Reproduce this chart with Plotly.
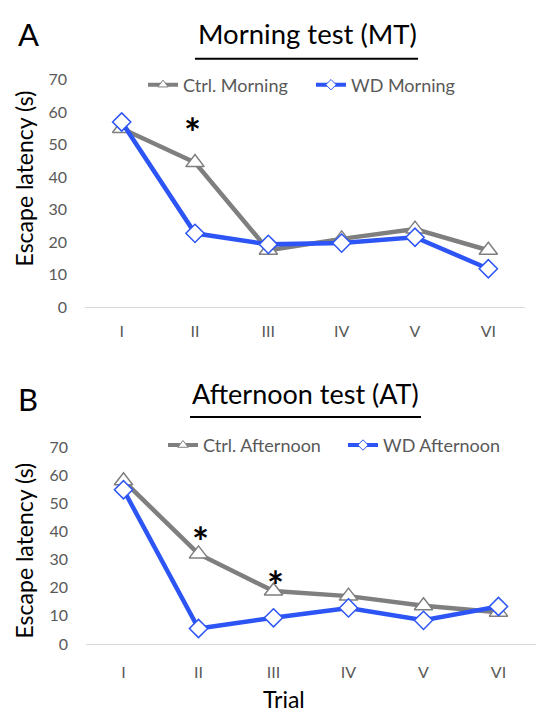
import plotly.graph_objects as go

W, H = 558, 726

trials = ["I", "II", "III", "IV", "V", "VI"]
ctrl_morning = [55, 44.5, 17.5, 21, 24, 17.5]
wd_morning = [57, 22.7, 19.3, 19.7, 21.5, 11.8]
ctrl_afternoon = [58, 32, 18.8, 17, 13.6, 11.3]
wd_afternoon = [54.8, 5.5, 9.3, 12.8, 8.4, 13.3]
y_ticks = [0, 10, 20, 30, 40, 50, 60, 70]

# significance marks (trial, value at which the asterisk sits)
sig_morning = [("II", 54)]
sig_afternoon = [("II", 40), ("III", 24.6)]

GRAY = "#7F7F7F"
BLUE = "#2D55F5"
TXT = "#595959"
FONT = "Lato"


def px(x):
    return x / W


def py(y):
    return 1 - y / H


fig = go.Figure()

def add_pair(ctrl, wd, xa, ya, leg, names):
    fig.add_trace(go.Scatter(
        x=trials, y=ctrl, xaxis=xa, yaxis=ya, name=names[0], legend=leg,
        mode="lines+markers", showlegend=False,
        line=dict(color=GRAY, width=4.5),
        marker=dict(symbol="triangle-up", size=16, color="white",
                    line=dict(color=GRAY, width=1.5)),
    ))
    fig.add_trace(go.Scatter(
        x=trials, y=wd, xaxis=xa, yaxis=ya, name=names[1], legend=leg,
        mode="lines+markers", showlegend=False,
        line=dict(color=BLUE, width=4.5),
        marker=dict(symbol="diamond", size=14, color="white",
                    line=dict(color=BLUE, width=1.5)),
    ))
    # legend entries with the smaller legend symbols
    fig.add_trace(go.Scatter(
        x=[None], y=[None], xaxis=xa, yaxis=ya, name=names[0], legend=leg,
        mode="lines+markers", hoverinfo="skip",
        line=dict(color=GRAY, width=4),
        marker=dict(symbol="triangle-up", size=9, color="white",
                    line=dict(color=GRAY, width=1)),
    ))
    fig.add_trace(go.Scatter(
        x=[None], y=[None], xaxis=xa, yaxis=ya, name=names[1], legend=leg,
        mode="lines+markers", hoverinfo="skip",
        line=dict(color=BLUE, width=4),
        marker=dict(symbol="diamond", size=8, color="white",
                    line=dict(color=BLUE, width=1)),
    ))

add_pair(ctrl_morning, wd_morning, "x", "y", "legend", ["Ctrl. Morning", "WD Morning"])
add_pair(ctrl_afternoon, wd_afternoon, "x2", "y2", "legend2", ["Ctrl. Afternoon", "WD Afternoon"])

xcommon = dict(type="category", categoryorder="array", categoryarray=trials,
               range=[-0.5, 5.5], showgrid=False, zeroline=False,
               showline=True, linecolor="#D9D9D9", linewidth=1.3, ticks="",
               tickfont=dict(family=FONT, size=16, color=TXT), fixedrange=True)
ycommon = dict(range=[0, 70], tickvals=y_ticks, showgrid=False, zeroline=False,
               showline=False, ticks="", tickfont=dict(family=FONT, size=16, color=TXT),
               ticklabelstandoff=17, fixedrange=True)

annotations = []
for trial, v in sig_morning:
    annotations.append(dict(x=trial, y=v, xref="x", yref="y", text="<b>*</b>",
                            showarrow=False, font=dict(family=FONT, size=40, color="black"),
                            yshift=-1, xshift=-3))
for trial, v in sig_afternoon:
    annotations.append(dict(x=trial, y=v, xref="x2", yref="y2", text="<b>*</b>",
                            showarrow=False, font=dict(family=FONT, size=40, color="black"),
                            yshift=-11, xshift=2))

def paper_text(x, y, text, size, **kw):
    d = dict(x=px(x), y=py(y), xref="paper", yref="paper", text=text, showarrow=False,
             font=dict(family=FONT, size=size, color=kw.pop("color", "black")),
             xanchor=kw.pop("xanchor", "center"), yanchor=kw.pop("yanchor", "middle"))
    d.update(kw)
    annotations.append(d)

paper_text(28, 25, "A", 31)
paper_text(28, 399, "B", 31)
paper_text(307, 24, "Morning test (MT)", 27.5)
paper_text(305, 394, "Afternoon test (AT)", 27)
paper_text(24, 173, "Escape latency (s)", 23, textangle=-90)
paper_text(24, 555, "Escape latency (s)", 23, textangle=-90)
paper_text(284, 708, "Trial", 23)

shapes = [
    dict(type="line", xref="paper", yref="paper", x0=px(195), x1=px(418), y0=py(50), y1=py(50),
         line=dict(color="black", width=2)),
    dict(type="line", xref="paper", yref="paper", x0=px(190), x1=px(421), y0=py(418), y1=py(418),
         line=dict(color="black", width=2)),
]

legcommon = dict(orientation="h", font=dict(family=FONT, size=18, color=TXT),
                 bgcolor="rgba(0,0,0,0)", yanchor="middle", xanchor="left",
                 itemsizing="trace", tracegroupgap=0, entrywidthmode="pixels")

fig.update_layout(
    width=W, height=H, margin=dict(l=0, r=0, t=0, b=0),
    paper_bgcolor="white", plot_bgcolor="white",
    xaxis=dict(domain=[px(85), px(525)], anchor="y", ticklabelstandoff=10, **xcommon),
    yaxis=dict(domain=[py(305), py(71.7)], anchor="x", **ycommon),
    xaxis2=dict(domain=[px(86), px(536)], anchor="y2", ticklabelstandoff=14, **xcommon),
    yaxis2=dict(domain=[py(651), py(448.7)], anchor="x2", **ycommon),
    legend=dict(x=px(143), y=py(77), entrywidth=123, **legcommon),
    legend2=dict(x=px(163), y=py(447), entrywidth=135, **legcommon),
    annotations=annotations, shapes=shapes,
)

fig.write_html("out.html", config={"displayModeBar": False},
               post_script="document.body.style.margin='0';document.body.style.overflow='hidden';")
